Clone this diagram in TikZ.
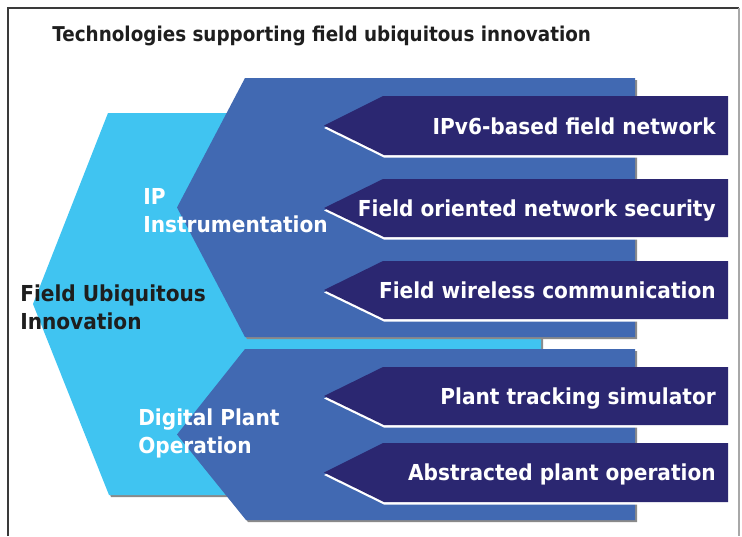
\documentclass[tikz,border=0pt]{standalone}
\usepackage{fontspec}
\setmainfont{DejaVu Sans}
\newfontfamily\labelfont[FakeStretch=0.915]{DejaVu Sans}
\newfontfamily\titlefont[FakeStretch=0.9]{DejaVu Sans}
\definecolor{cyanfill}{HTML}{40C4F1}
\definecolor{bluefill}{HTML}{4169B2}
\definecolor{navyfill}{HTML}{2B2771}
\definecolor{shadowgray}{HTML}{8A8A8A}
\definecolor{darktext}{HTML}{1E1E1E}
\definecolor{frameleft}{HTML}{3A3A3A}
\definecolor{frameright}{HTML}{A8A8A8}
\tikzset{
  shadowshape/.style={fill=shadowgray, draw=none},
  cyanshape/.style={fill=cyanfill, draw=none},
  blueshape/.style={fill=bluefill, draw=none},
  navyshape/.style={fill=navyfill, draw=none},
  whiteedge/.style={fill=white, draw=none},
  armlabel/.style={anchor=base east, inner sep=0pt, text=white, font=\labelfont\bfseries\fontsize{16.5}{20}\selectfont},
  grouplabel/.style={anchor=base west, inner sep=0pt, text=white, align=left, font=\labelfont\bfseries\fontsize{16.5}{20.7}\selectfont},
  mainlabel/.style={anchor=base west, inner sep=0pt, text=darktext, align=left, font=\labelfont\bfseries\fontsize{16.5}{20.7}\selectfont},
  titlelabel/.style={anchor=base west, inner sep=0pt, text=darktext, font=\titlefont\bfseries\fontsize{15.3}{18}\selectfont}
}
\newcommand{\navyarrow}[3]{% #1 top, #2 bottom, #3 name
  \fill[whiteedge] (324,{(#1+#2)/2+2.5}) -- (383,{#1+2.5}) -- (728,{#1+2.5}) -- (728,{#2+2.5}) -- (384,{#2+2.5}) -- cycle;
  \fill[navyshape] (324,{(#1+#2)/2}) -- (383,#1) -- (728,#1) -- (728,#2) -- (384,#2) -- cycle;
  \coordinate (#3) at (716,{(#1+#2)/2});
}
\begin{document}
\begin{tikzpicture}[x=0.75pt,y=-0.75pt]
\useasboundingbox (0,0) rectangle (742,536);
% frame
\draw[frameleft, line width=1.1pt] (8,536) -- (8,8) -- (739,8);
\draw[frameright, line width=0.9pt] (739,8) -- (739,536);
% title
\node[titlelabel] (title) at (52,41.7) {Technologies supporting field ubiquitous innovation};
% cyan hexagon
\fill[shadowgray] (35,306) -- (110,115) -- (543,115) -- (543,497) -- (111,497) -- cycle;
\fill[cyanshape] (33,304) -- (108,113) -- (541,113) -- (541,495) -- (109,495) -- cycle;
% upper blue
\fill[shadowgray] (179,209.5) -- (247,80) -- (637,80) -- (637,339) -- (247,339) -- cycle;
\fill[blueshape] (177,207.5) -- (245,78) -- (635,78) -- (635,337) -- (245,337) -- cycle;
% lower blue
\fill[shadowgray] (179,436.5) -- (247,351) -- (637,351) -- (637,522) -- (248,522) -- cycle;
\fill[blueshape] (177,434.5) -- (245,349) -- (635,349) -- (635,520) -- (246,520) -- cycle;
% navy arrows
\navyarrow{96}{155}{a1}
\navyarrow{179}{237}{a2}
\navyarrow{261}{319}{a3}
\navyarrow{367}{425}{a4}
\navyarrow{443}{502}{a5}
% arm labels
\node[armlabel] (t1) at (716,134) {IPv6-based field network};
\node[armlabel] (t2) at (716,216) {Field oriented network security};
\node[armlabel] (t3) at (716,298) {Field wireless communication};
\node[armlabel] (t4) at (716,404) {Plant tracking simulator};
\node[armlabel] (t5) at (716,480) {Abstracted plant operation};
% group labels (anchored at the baseline of the last line)
\node[grouplabel] (ip) at (143,232) {IP\\Instrumentation};
\node[grouplabel] (dpo) at (138,453) {Digital Plant\\Operation};
\node[mainlabel] (fui) at (20,329) {Field Ubiquitous\\Innovation};
\end{tikzpicture}
\end{document}
